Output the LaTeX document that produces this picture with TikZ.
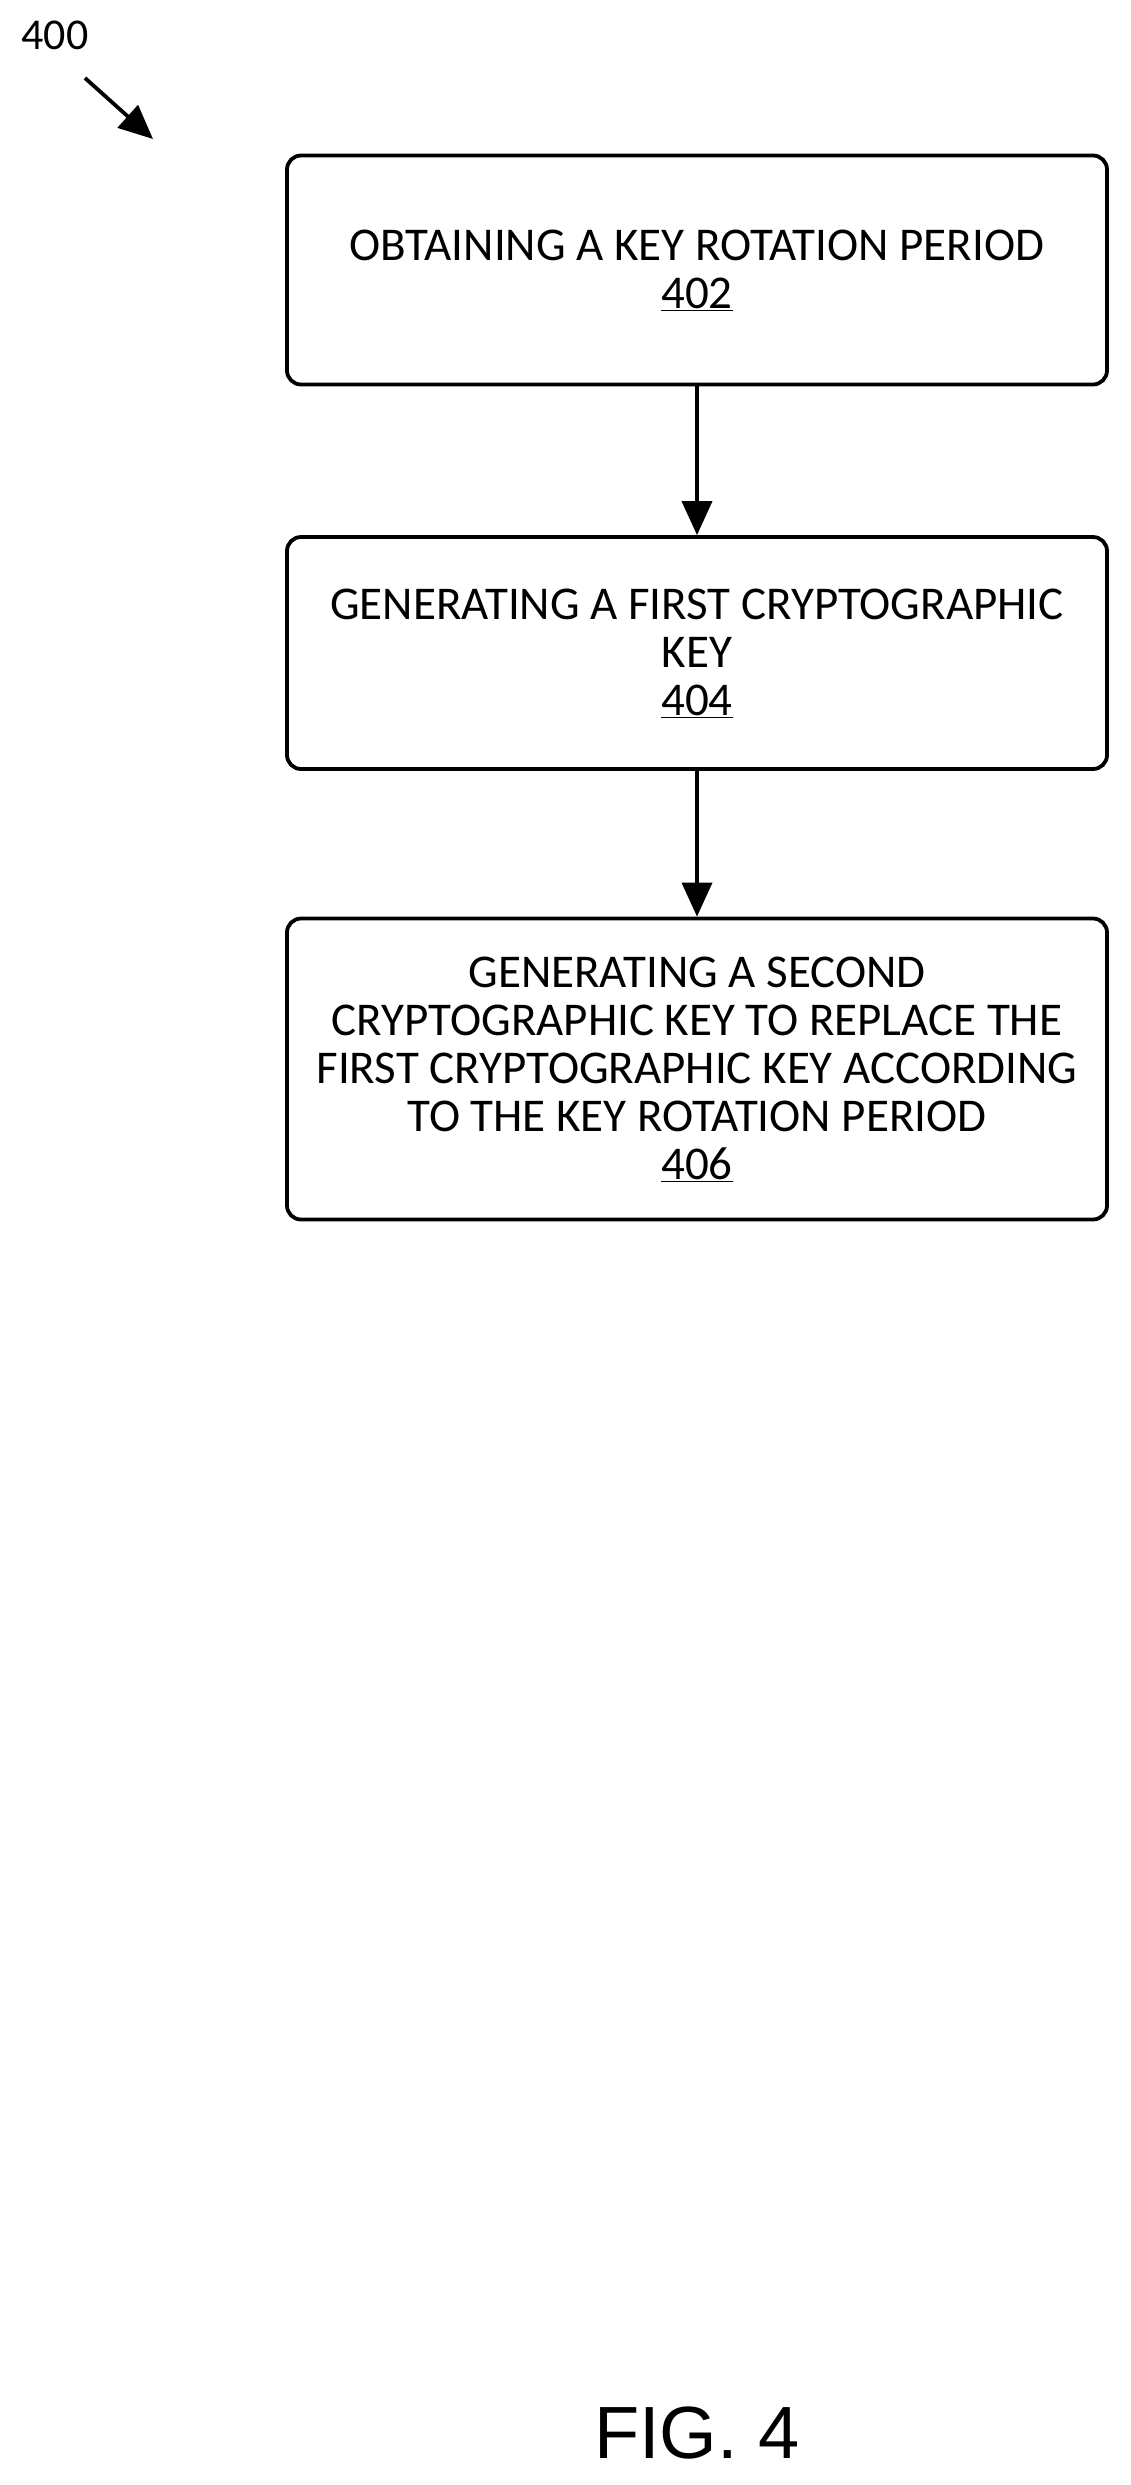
\documentclass[tikz,border=0pt]{standalone}
\usepackage{fontspec}
\setmainfont{Carlito}
\newfontfamily\figfont{Liberation Sans}
\usetikzlibrary{arrows.meta}
\begin{document}
\begin{tikzpicture}[x=1pt,y=-1pt,
  box/.style={draw,line width=3.8pt,rounded corners=14pt,minimum width=820pt,align=center,font=\fontsize{47}{48}\selectfont,inner sep=0pt},
  arr/.style={line width=3.8pt,-{Triangle[length=34pt,width=30pt]}}]
\useasboundingbox (0,0) rectangle (1131,2485);
\node[box,minimum height=229pt] (b1) at (697,270) {OBTAINING A KEY ROTATION PERIOD\\\underline{402}};
\node[box,minimum height=232pt] (b2) at (697,653) {GENERATING A FIRST CRYPTOGRAPHIC\\KEY\\\underline{404}};
\node[box,minimum height=301pt] (b3) at (697,1069) {GENERATING A SECOND\\CRYPTOGRAPHIC KEY TO REPLACE THE\\FIRST CRYPTOGRAPHIC KEY ACCORDING\\TO THE KEY ROTATION PERIOD\\\underline{406}};
\draw[arr] (b1) -- (b2);
\draw[arr] (b2) -- (b3);
\node[font=\fontsize{44}{48}\selectfont] (lbl) at (55,35) {400};
\coordinate (a0) at (85,78);
\coordinate (a1) at (153,139);
\draw[arr] (a0) -- (a1);
\node[font=\figfont\fontsize{74}{80}\selectfont] (fig) at (697,2433) {FIG. 4};
\end{tikzpicture}
\end{document}
